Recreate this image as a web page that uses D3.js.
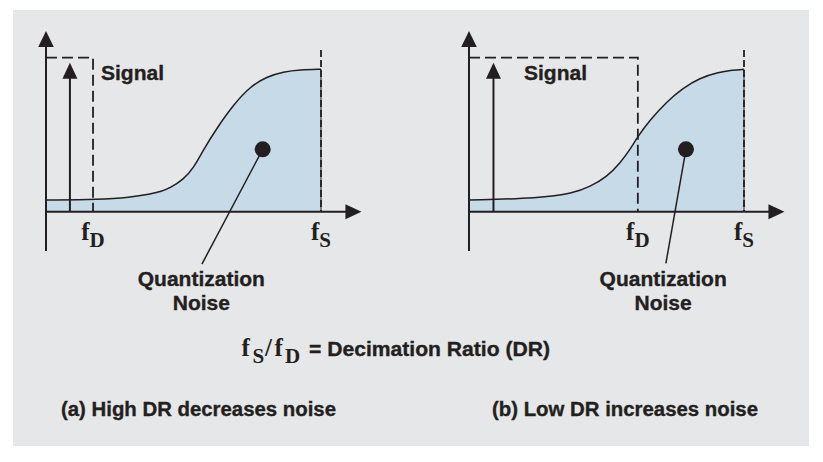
<!DOCTYPE html>
<html><head><meta charset="utf-8">
<script src="https://cdn.jsdelivr.net/npm/d3@7"></script>
<style>body{margin:0;background:#fff}svg{display:block}</style>
</head><body>
<script>
// ---- data (frequency in units of fS, amplitude in units of signal passband height)
const panelNames = ["(a) High DR decreases noise", "(b) Low DR increases noise"];
const fD = [0.171, 0.614];            // decimation frequency for each panel
const fS = 1.0;
const signalFreq = [0.087, 0.089];
const signalAmp = 0.968;
const noiseA = [[0,0.076],[0.196,0.079],[0.305,0.093],[0.378,0.113],[0.420,0.132],[0.451,0.154],[0.499,0.208],[0.536,0.282],[0.572,0.401],[0.621,0.542],[0.681,0.693],[0.742,0.812],[0.803,0.877],[0.863,0.909],[0.924,0.922],[1.0,0.925]];
const noiseB = [[0,0.076],[0.258,0.087],[0.378,0.119],[0.440,0.162],[0.502,0.227],[0.549,0.316],[0.585,0.401],[0.613,0.487],[0.658,0.595],[0.719,0.714],[0.778,0.803],[0.840,0.868],[0.902,0.903],[0.960,0.920],[1.0,0.925]];
const noiseCurves = [noiseA, noiseB];
const dotPos = [[0.788,0.405],[0.789,0.405]];
const leaderEnd = [[0.567,-0.34],[0.716,-0.335]];
const labelX = [0.565, 0.706];
const tickLabels = [["f","D"],["f","S"]];
const signalLabel = "Signal";
const noiseLabel = ["Quantization","Noise"];
const formulaParts = ["f","S","/","f","D"];
const formulaRest = "= Decimation Ratio (DR)";

const ink = "#231f20", fill = "#c6dae8", bg = "#e6e7e8";
const W = 823, H = 462;
const svg = d3.select("body").append("svg").attr("width", W).attr("height", H);
svg.append("rect").attr("width", W).attr("height", H).attr("fill", "#fff");
svg.append("rect").attr("x", 13).attr("y", 10).attr("width", 796).attr("height", 436).attr("fill", bg);

const y = d3.scaleLinear().domain([0,1]).range([211.7, 57.7]);
const xRanges = [[46,321],[469,744]];
const sans = "'Liberation Sans', Arial, Helvetica, sans-serif";
const serif = "'Liberation Serif', 'Times New Roman', serif";

function sansText(sel) {
  return sel.attr("font-family", sans).attr("font-weight", "bold").attr("fill", ink)
    .attr("stroke", ink).attr("stroke-width", 0.35);
}
function fLabel(g, x, yb, parts, fs1, fs2, shift, anchor) {
  const t = g.append("text").attr("x", x).attr("y", yb).attr("text-anchor", anchor)
    .attr("font-family", serif).attr("font-weight", "bold").attr("fill", ink);
  t.append("tspan").attr("font-size", fs1).text(parts[0]);
  t.append("tspan").attr("font-size", fs2).attr("dy", shift).text(parts[1]);
  return t;
}

panelNames.forEach((name, i) => {
  const x = d3.scaleLinear().domain([0,1]).range(xRanges[i]);
  const g = svg.append("g");
  const curve = d3.curveBasis;
  const area = d3.area().x(d => x(d[0])).y0(y(0)).y1(d => y(d[1])).curve(curve);
  const line = d3.line().x(d => x(d[0])).y(d => y(d[1])).curve(curve);
  g.append("path").datum(noiseCurves[i]).attr("d", area).attr("fill", fill);
  g.append("path").datum(noiseCurves[i]).attr("d", line).attr("fill", "none").attr("stroke", ink).attr("stroke-width", 1.5);
  // fS edge
  const last = noiseCurves[i][noiseCurves[i].length-1][1];
  g.append("line").attr("x1", x(fS)).attr("x2", x(fS)).attr("y1", y(last)).attr("y2", y(0))
    .attr("stroke", ink).attr("stroke-width", 1);
  g.append("line").attr("x1", x(fS)).attr("x2", x(fS)).attr("y1", y(1.05)).attr("y2", y(0))
    .attr("stroke", ink).attr("stroke-width", 1.8).attr("stroke-dasharray", "7,3");
  // signal band dashed box
  g.append("path").attr("d", `M${x(0)},${y(1)}H${x(fD[i])}V${y(0)}`).attr("fill", "none")
    .attr("stroke", ink).attr("stroke-width", 1.8).attr("stroke-dasharray", "11,5");
  // signal arrow
  const sx = x(signalFreq[i]);
  g.append("line").attr("x1", sx).attr("x2", sx).attr("y1", y(0)).attr("y2", y(signalAmp) + 10).attr("stroke", ink).attr("stroke-width", 2);
  g.append("path").attr("d", `M${sx},${y(signalAmp)}l7.5,16h-15z`).attr("fill", ink);
  // axes
  const x0 = x(0);
  g.append("line").attr("x1", x0).attr("x2", x0).attr("y1", y(-0.255)).attr("y2", y(1.173) + 10).attr("stroke", ink).attr("stroke-width", 2);
  g.append("path").attr("d", `M${x0},${y(1.173)}l7.8,16h-15.6z`).attr("fill", ink);
  g.append("line").attr("x1", x0).attr("x2", x(1.147) - 10).attr("y1", y(0)).attr("y2", y(0)).attr("stroke", ink).attr("stroke-width", 2);
  g.append("path").attr("d", `M${x(1.147)},${y(0)}l-16,-7.5v15z`).attr("fill", ink);
  // tick labels
  fLabel(g, x(fD[i]), 240, tickLabels[0], 25, 21, 7, "middle");
  fLabel(g, x(fS), 240, tickLabels[1], 25, 21, 7, "middle");
  // signal label
  sansText(g.append("text").attr("x", x(0.2)).attr("y", 80).attr("font-size", 21).text(signalLabel));
  // dot and leader
  const [dx, dy] = dotPos[i];
  g.append("line").attr("x1", x(dx)).attr("y1", y(dy)).attr("x2", x(leaderEnd[i][0])).attr("y2", y(leaderEnd[i][1]))
    .attr("stroke", ink).attr("stroke-width", 1.5);
  g.append("circle").attr("cx", x(dx)).attr("cy", y(dy)).attr("r", 8).attr("fill", ink);
  noiseLabel.forEach((t, k) => {
    sansText(g.append("text").attr("x", x(labelX[i])).attr("y", 286 + k * 24).attr("text-anchor", "middle")
      .attr("font-size", 21).text(t));
  });
});

// formula fS/fD
const fx = [241.5, 252.5, 265, 274.5, 285];
const fsz = [25, 21, 25, 25, 21];
const fyb = [356, 362.5, 356, 356, 362.5];
const fg = svg.append("g");
formulaParts.forEach((p, k) => {
  fg.append("text").attr("x", fx[k]).attr("y", fyb[k]).attr("font-family", serif).attr("font-weight", "bold")
    .attr("font-size", fsz[k]).attr("fill", ink).text(p);
});
sansText(fg.append("text").attr("x", 309).attr("y", 356).attr("font-size", 20)
  .attr("textLength", 241).attr("lengthAdjust", "spacingAndGlyphs").text(formulaRest));

// captions
const capX = [[61, 275], [492, 266]];
panelNames.forEach((name, i) => {
  sansText(svg.append("text").attr("x", capX[i][0]).attr("y", 415.5).attr("font-size", 20)
    .attr("textLength", capX[i][1]).attr("lengthAdjust", "spacingAndGlyphs").text(name));
});
</script>
</body></html>
